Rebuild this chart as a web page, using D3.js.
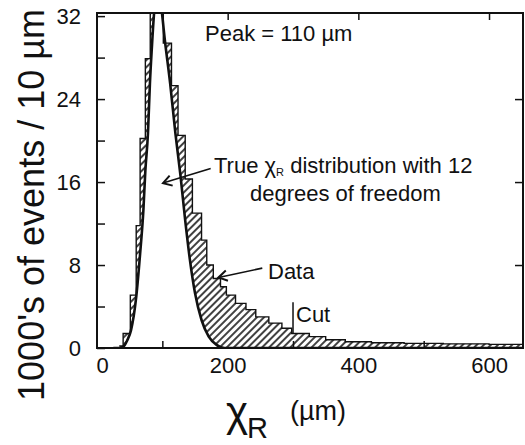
<!DOCTYPE html>
<html>
<head>
<meta charset="utf-8">
<script src="https://cdn.jsdelivr.net/npm/d3@7/dist/d3.min.js"></script>
<style>
  body { margin: 0; background: #fff; }
  text { font-family: "Liberation Sans", Arial, Helvetica, sans-serif; fill: #111; }
</style>
</head>
<body>
<div id="vis"></div>
<script>
// Histogram of the data: bin edges (um) and heights (1000's of events / 10 um)
var binEdges = [34, 40, 51, 60, 66, 74, 81.5, 101.5, 114, 124, 135, 146, 160, 168, 178, 189, 198,
                212, 228, 243, 263, 283, 298, 325, 350, 380, 420, 470, 530, 600, 652];
var binCounts = [0.2, 1.4, 5.1, 11.8, 20.2, 27.9, 34, 29.4, 25.3, 20.5, 16.3, 13.0, 10.4, 8.0, 6.7, 5.9,
                 5.1, 4.3, 3.7, 3.0, 2.4, 1.9, 1.4, 1.1, 0.8, 0.6, 0.5, 0.45, 0.4, 0.35];

// True chi_R distribution (12 degrees of freedom)
var curveX = [25, 35, 40, 46, 52, 60, 66, 71, 74, 78, 81, 84, 87, 92, 98, 104, 112, 120, 128,
              135, 142, 150, 160, 171, 183, 195, 652];
var curveY = [0, 0, 0.1, 0.7, 1.7, 4.9, 9.1, 13.3, 17.1, 20.7, 25.5, 29, 32, 34.5, 33, 29.6, 25.5,
              20.7, 16.5, 12.3, 8.6, 5.3, 2.7, 1.1, 0.3, 0, 0];

var yTicks = [0, 8, 16, 24, 32];
var yMinorTicks = [4, 12, 20, 28];
var xTicks = [0, 200, 400, 600];
var xMinorTicks = [100, 300, 500];
var cutValue = 300;

(function() {
    var width = 525;
    var height = 445;

    var svg = d3.select('#vis')
        .append('svg')
        .attr('width', width)
        .attr('height', height);

    // plot box in pixels
    var left = 97, right = 523, top = 13, bottom = 348;

    var xScale = d3.scaleLinear().domain([0, 652]).range([left, right]);
    var yScale = d3.scaleLinear().domain([0, 32.3]).range([bottom, top]);

    var defs = svg.append('defs');
    defs.append('clipPath').attr('id', 'plotClip')
        .append('rect')
        .attr('x', left).attr('y', top)
        .attr('width', right - left).attr('height', bottom - top);

    var hatch = defs.append('pattern')
        .attr('id', 'hatch')
        .attr('patternUnits', 'userSpaceOnUse')
        .attr('width', 5).attr('height', 5)
        .attr('patternTransform', 'rotate(45)');
    hatch.append('rect').attr('width', 5).attr('height', 5).attr('fill', '#fff');
    hatch.append('line')
        .attr('x1', 1).attr('y1', 0).attr('x2', 1).attr('y2', 5)
        .attr('stroke', '#111').attr('stroke-width', 1.6);

    var plot = svg.append('g').attr('clip-path', 'url(#plotClip)');

    // step data for the histogram
    var steps = binEdges.map(function(e, i) {
        return { x: e, y: i < binCounts.length ? binCounts[i] : 0 };
    });

    var histArea = d3.area()
        .curve(d3.curveStepAfter)
        .x(function(d) { return xScale(d.x); })
        .y0(yScale(0))
        .y1(function(d) { return yScale(d.y); });

    var histLine = d3.line()
        .curve(d3.curveStepAfter)
        .x(function(d) { return xScale(d.x); })
        .y(function(d) { return yScale(d.y); });

    var curvePts = curveX.map(function(x, i) { return { x: x, y: curveY[i] }; });

    var curveArea = d3.area()
        .curve(d3.curveMonotoneX)
        .x(function(d) { return xScale(d.x); })
        .y0(yScale(0))
        .y1(function(d) { return yScale(d.y); });

    var curveLine = d3.line()
        .curve(d3.curveMonotoneX)
        .x(function(d) { return xScale(d.x); })
        .y(function(d) { return yScale(d.y); });

    plot.append('path').datum(steps)
        .attr('d', histArea)
        .attr('fill', 'url(#hatch)');

    plot.append('path').datum(curvePts)
        .attr('d', curveArea)
        .attr('fill', '#fff');

    plot.append('path').datum(steps)
        .attr('d', histLine)
        .attr('fill', 'none')
        .attr('stroke', '#111')
        .attr('stroke-width', 1.4);

    plot.append('path').datum(curvePts)
        .attr('d', curveLine)
        .attr('fill', 'none')
        .attr('stroke', '#111')
        .attr('stroke-width', 2.6);

    // frame
    svg.append('rect')
        .attr('x', left).attr('y', top)
        .attr('width', right - left).attr('height', bottom - top)
        .attr('fill', 'none')
        .attr('stroke', '#111')
        .attr('stroke-width', 2);

    // left axis, ticks inside
    var yAxis = d3.axisLeft(yScale).tickValues(yTicks).tickSizeInner(-8).tickSizeOuter(0).tickPadding(16);
    var gY = svg.append('g').attr('transform', 'translate(' + left + ',0)').call(yAxis);
    gY.select('.domain').remove();
    gY.selectAll('text').style('font-size', '22px').attr('fill', '#111');
    gY.selectAll('line').attr('stroke', '#111').attr('stroke-width', 1.5);

    var gYm = svg.append('g').attr('transform', 'translate(' + left + ',0)')
        .call(d3.axisLeft(yScale).tickValues(yMinorTicks).tickSizeInner(-8).tickSizeOuter(0).tickFormat(''));
    gYm.select('.domain').remove();
    gYm.selectAll('line').attr('stroke', '#111').attr('stroke-width', 1.5);

    // right axis ticks
    var gR = svg.append('g').attr('transform', 'translate(' + right + ',0)')
        .call(d3.axisRight(yScale).tickValues([8, 16, 24]).tickSizeInner(-8).tickSizeOuter(0).tickFormat(''));
    gR.select('.domain').remove();
    gR.selectAll('line').attr('stroke', '#111').attr('stroke-width', 1.5);

    // bottom axis
    var xAxis = d3.axisBottom(xScale).tickValues(xTicks).tickSizeInner(0).tickSizeOuter(0).tickPadding(9);
    var gX = svg.append('g').attr('transform', 'translate(0,' + bottom + ')').call(xAxis);
    gX.select('.domain').remove();
    gX.selectAll('text').style('font-size', '22px').attr('fill', '#111');
    gX.selectAll('text').filter(function(d) { return d === 0; }).attr('dx', 5);

    var gXm = svg.append('g').attr('transform', 'translate(0,' + bottom + ')')
        .call(d3.axisBottom(xScale).tickValues(xMinorTicks).tickSizeInner(-7).tickSizeOuter(0).tickFormat(''));
    gXm.select('.domain').remove();
    gXm.selectAll('line').attr('stroke', '#111').attr('stroke-width', 1.5);

    // top axis ticks
    var gT = svg.append('g').attr('transform', 'translate(0,' + top + ')')
        .call(d3.axisTop(xScale).tickValues([200, 400, 600]).tickSizeInner(-7).tickSizeOuter(0).tickFormat(''));
    gT.select('.domain').remove();
    gT.selectAll('line').attr('stroke', '#111').attr('stroke-width', 1.5);

    // cut marker
    svg.append('line')
        .attr('x1', xScale(cutValue)).attr('x2', xScale(cutValue))
        .attr('y1', yScale(1.4)).attr('y2', yScale(4.4))
        .attr('stroke', '#111').attr('stroke-width', 1.5);
    svg.append('text')
        .attr('x', xScale(cutValue) + 3).attr('y', yScale(2.5))
        .style('font-size', '22px')
        .text('Cut');

    // annotations
    svg.append('text').attr('x', 205).attr('y', 41).style('font-size', '22px').text('Peak = 110 \u00b5m');

    var trueText = svg.append('text').attr('x', 214).attr('y', 173).style('font-size', '22px');
    trueText.append('tspan').text('True \u03c7');
    trueText.append('tspan').attr('dy', 3).style('font-size', '11px').text('R');
    trueText.append('tspan').attr('dy', -3).text('  distribution with 12');
    svg.append('text').attr('x', 250).attr('y', 201).style('font-size', '22px').text('degrees of freedom');

    svg.append('text').attr('x', 268).attr('y', 279).style('font-size', '22px').text('Data');

    function arrow(x0, y0, x1, y1) {
        var p0 = [xScale(x0), yScale(y0)], p1 = [xScale(x1), yScale(y1)];
        svg.append('line')
            .attr('x1', p0[0]).attr('y1', p0[1]).attr('x2', p1[0]).attr('y2', p1[1])
            .attr('stroke', '#111').attr('stroke-width', 1.6);
        var a = Math.atan2(p0[1] - p1[1], p0[0] - p1[0]);
        var len = 10, spread = 0.55;
        var h1 = [p1[0] + len * Math.cos(a + spread), p1[1] + len * Math.sin(a + spread)];
        var h2 = [p1[0] + len * Math.cos(a - spread), p1[1] + len * Math.sin(a - spread)];
        svg.append('path')
            .attr('d', 'M' + h1 + 'L' + p1 + 'L' + h2)
            .attr('fill', 'none').attr('stroke', '#111').attr('stroke-width', 2);
    }
    // true-curve arrow and data arrow (data coordinates)
    arrow(174, 17.3, 101, 15.9);
    arrow(253, 7.7, 186, 6.8);

    // axis titles
    svg.append('text')
        .attr('transform', 'translate(44,205) rotate(-90)')
        .attr('text-anchor', 'middle')
        .style('font-size', '36px')
        .text("1000's of events / 10 \u00b5m");

    svg.append('text').attr('x', 226).attr('y', 426).style('font-size', '42px').text('\u03c7');
    svg.append('text').attr('x', 247).attr('y', 438).style('font-size', '29px').text('R');
    svg.append('text').attr('x', 290).attr('y', 420).style('font-size', '27px').text('(\u00b5m)');
})();
</script>
</body>
</html>
